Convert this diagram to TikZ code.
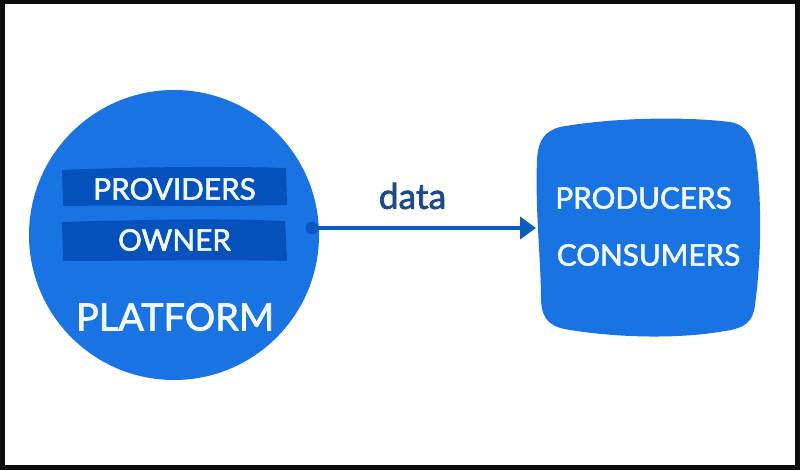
\documentclass[tikz,border=0pt]{standalone}
\usepackage{fontspec}
\setmainfont{Lato}
\newfontfamily\labelfont[FakeBold=2]{Lato}
\usetikzlibrary{arrows.meta}
\definecolor{mainblue}{HTML}{1A73E3}
\definecolor{darkbar}{HTML}{0552BC}
\definecolor{linkblue}{HTML}{0B5CBE}
\definecolor{labelblue}{HTML}{1D4A86}
\definecolor{softwhite}{HTML}{F2FAFC}
\tikzset{
  px/.style={x=0.75pt,y=-0.75pt},
  label text/.style={text=softwhite,inner sep=0pt,anchor=center,font=\labelfont\fontsize{22.3}{24}\selectfont},
  big label/.style={label text,font=\labelfont\fontsize{28.4}{30}\selectfont},
  bar/.style={fill=darkbar,draw=none},
  link/.style={draw=linkblue,line width=3pt,-{Triangle[length=12pt,width=16.5pt]}}
}
\begin{document}
\begin{tikzpicture}[px]
\useasboundingbox (0,0) rectangle (800,470);
\fill[black!95] (0,0) rectangle (800,470);
\fill[white] (5,4) rectangle (795,465);
% platform circle
\node[circle,fill=mainblue,draw=none,minimum size=217.5pt,inner sep=0pt] (platform) at (174,235) {};
% bars
\path[bar] (62,170) .. controls (130,167) and (220,166) .. (286,168) -- (287,205) .. controls (220,207) and (130,205) .. (63,206) -- cycle;
\path[bar] (62,222) .. controls (130,220) and (220,218) .. (285,221) -- (287,261) .. controls (220,259) and (130,261) .. (63,261) -- cycle;
\node[label text] (providers) at (174.5,189) {PROVIDERS};
\node[label text] (owner) at (174.5,240) {OWNER};
\node[big label] (platformlabel) at (175,317) {PLATFORM};
% consumer box
\fill[mainblue] (537,160)
  .. controls (538,140) and (545,131) .. (560,127)
  .. controls (610,118) and (680,116) .. (730,122)
  .. controls (748,125) and (755,140) .. (757,165)
  .. controls (762,210) and (761,260) .. (755,305)
  .. controls (753,322) and (745,328) .. (725,331)
  .. controls (680,339) and (620,338) .. (570,330)
  .. controls (550,327) and (542,320) .. (541,300)
  .. controls (541,260) and (535,210) .. (537,160) -- cycle;
\node[inner sep=0pt,minimum size=0pt] (box) at (536,228) {};
\node[label text] (producers) at (643.5,198) {PRODUCERS};
\node[label text] (consumers) at (648.5,255) {CONSUMERS};
% connector
\node[circle,fill=darkbar!85!mainblue,draw=none,minimum size=9.5pt,inner sep=0pt] (dot) at (312,228) {};
\draw[link] (dot.center) -- (box.center);
\node[inner sep=0pt,text=labelblue,font=\labelfont\fontsize{26.5}{28}\selectfont] (data) at (412.5,196) {data};
\end{tikzpicture}
\end{document}
